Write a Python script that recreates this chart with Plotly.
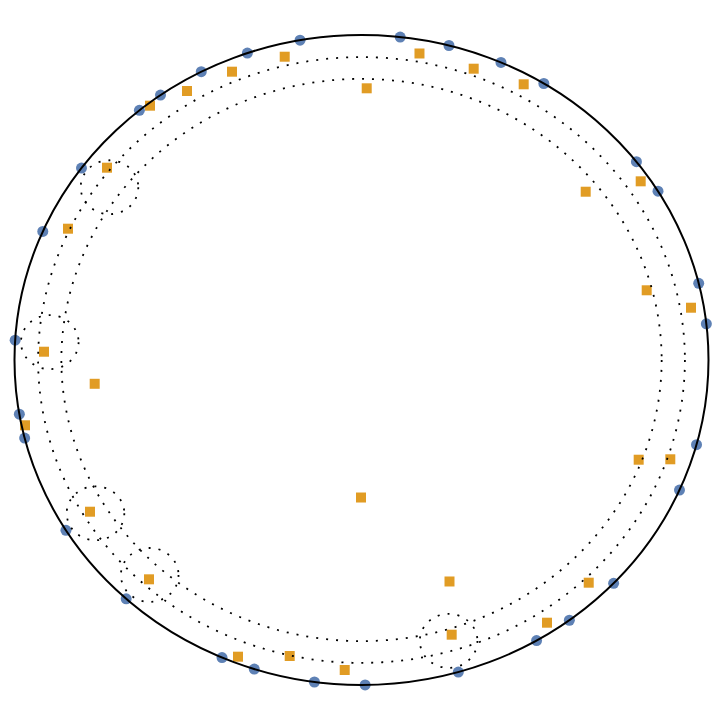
import numpy as np
import plotly.graph_objects as go

# blue points on the unit circle, given by angle (degrees)
blue_angles = [83.6, 75.4, 66.3, 58.3, 37.6, 31.3, 13.65, 6.4, -15.1, -23.6,
               -43.4, -53.2, -59.7, -73.8, -89.4, -97.8, -108.0, -113.7, -132.7, -148.4,
               -166.1, -170.4, 176.5, 156.7, 143.8, 129.8, 125.4, 117.5, 109.2, 100.2]

# orange squares (x, y)
orange_x = [0.1671, 0.3233, 0.4674, 0.0150, -0.2213, -0.3732, -0.5029, -0.6095, -0.7334, -0.8458,
            -0.9150, -0.7689, -0.9697, -0.7824, -0.6124, -0.3559, -0.2069, -0.0484, -0.0014, 0.2536,
            0.2599, 0.5346, 0.6548, 0.7988, 0.8899, 0.8219, 0.9496, 0.6461, 0.8046]
orange_y = [0.9431, 0.8963, 0.8483, 0.8360, 0.9332, 0.8871, 0.8277, 0.7825, 0.5917, 0.4040,
            0.0255, -0.0732, -0.2009, -0.4668, -0.6748, -0.9129, -0.9108, -0.9538, -0.4231, -0.6815,
            -0.8452, -0.8083, -0.6852, -0.3068, -0.3055, 0.2145, 0.1609, 0.5178, 0.5498]

# dotted band radii and small neighbourhood circles
band_radii = [0.865, 0.932]
hood_angles = [143.8, 176.5, 211.6, 227.3, 286.2]
hood_center_r = 0.9
hood_r = 0.083

BLUE = "#5E81B5"
ORANGE = "#E19C24"
DOT = "2px,8px"

ba = np.radians(blue_angles)
fig = go.Figure()
fig.add_trace(go.Scatter(
    x=np.cos(ba), y=np.sin(ba), mode="markers",
    marker=dict(color=BLUE, size=11, line=dict(width=0)),
    cliponaxis=False, hoverinfo="skip",
))
fig.add_trace(go.Scatter(
    x=orange_x, y=orange_y, mode="markers",
    marker=dict(color=ORANGE, size=10, symbol="square", line=dict(width=0)),
    cliponaxis=False, hoverinfo="skip",
))

shapes = [dict(type="circle", xref="x", yref="y", x0=-1, y0=-1, x1=1, y1=1,
               line=dict(color="black", width=2))]
for r in band_radii:
    shapes.append(dict(type="circle", xref="x", yref="y", x0=-r, y0=-r, x1=r, y1=r,
                       line=dict(color="black", width=1.8, dash=DOT)))
for a in np.radians(hood_angles):
    cx, cy = hood_center_r * np.cos(a), hood_center_r * np.sin(a)
    shapes.append(dict(type="circle", xref="x", yref="y",
                       x0=cx - hood_r, y0=cy - hood_r, x1=cx + hood_r, y1=cy + hood_r,
                       line=dict(color="black", width=1.8, dash=DOT)))

# page body has an 8px margin, so the ranges are offset to compensate
fig.update_layout(
    width=720, height=720,
    margin=dict(l=0, r=0, t=0, b=0),
    paper_bgcolor="white", plot_bgcolor="white",
    showlegend=False,
    shapes=shapes,
    xaxis=dict(range=[-353.5 / 347, 366.5 / 347], visible=False, showgrid=False, zeroline=False),
    yaxis=dict(range=[-368 / 325, 352 / 325], visible=False, showgrid=False, zeroline=False),
)
fig.write_html("out.html")
